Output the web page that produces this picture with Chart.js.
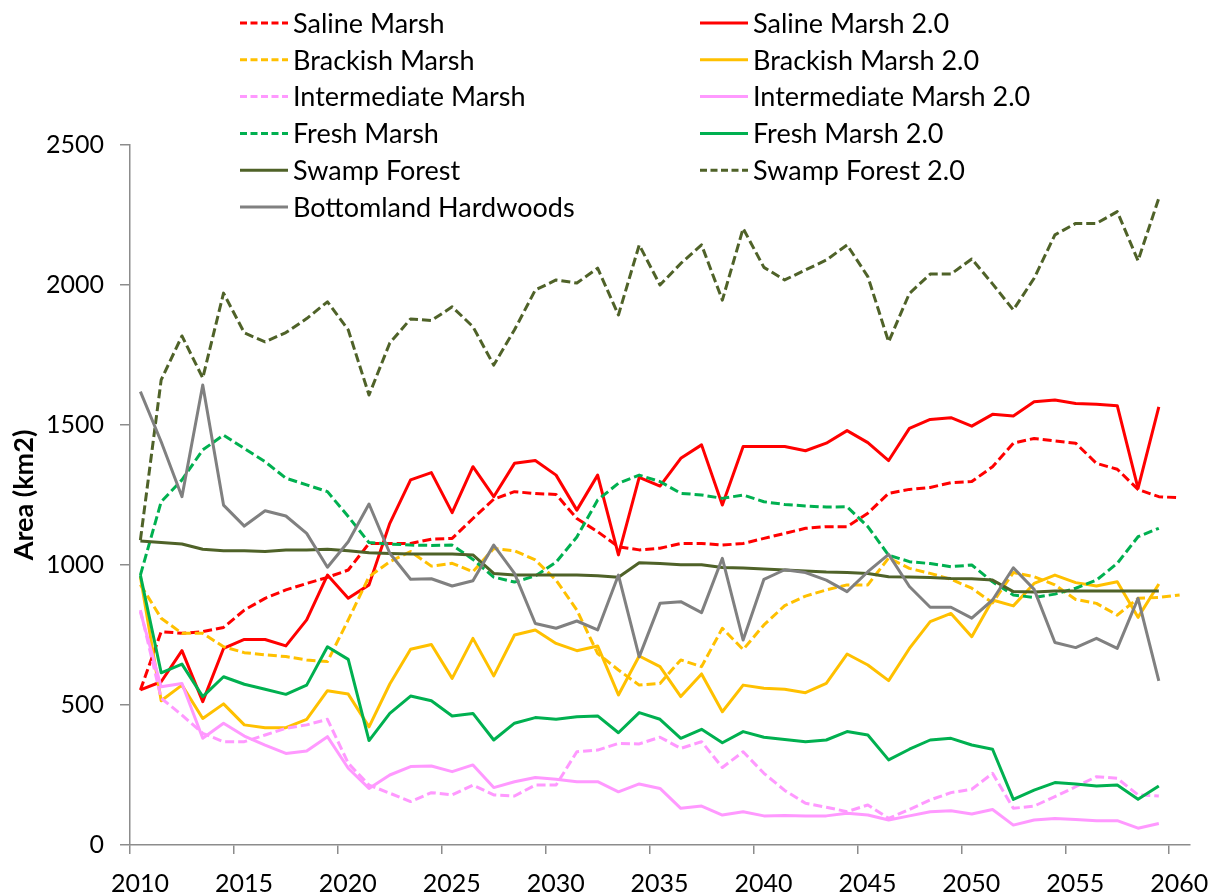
<!DOCTYPE html>
<html>
<head>
<meta charset="utf-8">
<script src="https://cdn.jsdelivr.net/npm/chart.js@4.4.1/dist/chart.umd.min.js"></script>
<style>
  html, body { margin: 0; padding: 0; background: #fff; }
  #wrap { width: 1220px; height: 896px; }
</style>
</head>
<body>
<div id="wrap"><canvas id="chartArea" width="1220" height="896"></canvas></div>
<script>
// tahun (titik data berada di tengah tahun)
const years = [2010.5, 2011.5, 2012.5, 2013.5, 2014.5, 2015.5, 2016.5, 2017.5, 2018.5, 2019.5,
  2020.5, 2021.5, 2022.5, 2023.5, 2024.5, 2025.5, 2026.5, 2027.5, 2028.5, 2029.5,
  2030.5, 2031.5, 2032.5, 2033.5, 2034.5, 2035.5, 2036.5, 2037.5, 2038.5, 2039.5,
  2040.5, 2041.5, 2042.5, 2043.5, 2044.5, 2045.5, 2046.5, 2047.5, 2048.5, 2049.5,
  2050.5, 2051.5, 2052.5, 2053.5, 2054.5, 2055.5, 2056.5, 2057.5, 2058.5, 2059.5, 2060.5];

const salineMarsh = [554, 762, 756, 762, 777, 839, 881, 911, 934, 956,
  982, 1077, 1077, 1077, 1092, 1095, 1166, 1235, 1262, 1255,
  1252, 1166, 1119, 1065, 1054, 1060, 1077, 1077, 1071, 1077,
  1095, 1113, 1131, 1137, 1137, 1185, 1256, 1270, 1277, 1294,
  1298, 1351, 1435, 1452, 1443, 1435, 1363, 1342, 1270, 1244, 1240];
const salineMarsh2 = [554, 583, 694, 512, 702, 734, 734, 711, 804, 964,
  881, 929, 1149, 1304, 1330, 1187, 1351, 1244, 1363, 1373,
  1321, 1196, 1321, 1036, 1313, 1282, 1381, 1429, 1214, 1423,
  1423, 1423, 1408, 1435, 1480, 1437, 1373, 1488, 1520, 1526,
  1496, 1538, 1532, 1583, 1589, 1577, 1574, 1569, 1274, 1565];
const brackishMarsh = [930, 810, 756, 756, 708, 687, 679, 673, 661, 655,
  804, 958, 1012, 1048, 996, 1006, 976, 1059, 1051, 1018,
  946, 839, 684, 625, 571, 577, 661, 637, 774, 698,
  786, 855, 889, 911, 929, 929, 1025, 988, 970, 949,
  917, 865, 973, 958, 929, 877, 863, 821, 881, 884, 893];
const brackishMarsh2 = [958, 515, 571, 452, 504, 429, 419, 419, 449, 551,
  539, 422, 575, 699, 716, 595, 738, 604, 750, 768,
  720, 694, 711, 536, 675, 637, 530, 611, 476, 571,
  560, 556, 544, 577, 682, 643, 587, 702, 798, 827,
  744, 875, 854, 934, 964, 937, 925, 940, 813, 932];
const intermediateMarsh = [839, 524, 464, 399, 369, 369, 393, 417, 429, 449,
  292, 214, 185, 155, 187, 179, 214, 179, 175, 214,
  214, 333, 339, 363, 361, 385, 345, 369, 277, 333,
  256, 195, 149, 135, 119, 143, 95, 127, 161, 187,
  199, 256, 131, 139, 173, 208, 244, 238, 179, 175];
const intermediateMarsh2 = [833, 565, 577, 381, 435, 389, 357, 327, 336, 387,
  274, 202, 250, 280, 282, 262, 286, 205, 226, 241,
  235, 226, 226, 190, 218, 202, 131, 139, 107, 119,
  104, 105, 104, 104, 113, 107, 89, 104, 119, 122,
  111, 127, 71, 89, 95, 91, 87, 87, 60, 77];
const freshMarsh = [964, 1226, 1304, 1411, 1464, 1416, 1369, 1310, 1286, 1262,
  1173, 1080, 1075, 1071, 1070, 1071, 1020, 957, 939, 961,
  1010, 1100, 1232, 1292, 1321, 1298, 1256, 1250, 1238, 1250,
  1226, 1216, 1211, 1207, 1208, 1137, 1035, 1012, 1005, 994,
  1000, 940, 893, 884, 896, 917, 946, 1006, 1101, 1131];
const freshMarsh2 = [964, 615, 646, 530, 601, 574, 556, 538, 571, 708,
  663, 373, 470, 532, 515, 461, 470, 375, 435, 455,
  449, 458, 461, 401, 473, 449, 381, 413, 365, 405,
  385, 377, 369, 375, 405, 393, 304, 342, 375, 381,
  357, 342, 163, 196, 223, 218, 211, 214, 163, 211];
const swampForest = [1086, 1080, 1075, 1056, 1051, 1051, 1048, 1054, 1054, 1056,
  1051, 1044, 1041, 1039, 1039, 1039, 1036, 970, 964, 964,
  964, 964, 962, 956, 1008, 1005, 1001, 1001, 991, 989,
  986, 982, 979, 975, 973, 970, 958, 957, 955, 952,
  951, 946, 905, 904, 907, 907, 907, 907, 907, 907];
const swampForest2 = [1089, 1661, 1818, 1668, 1971, 1829, 1797, 1830, 1880, 1940,
  1840, 1607, 1793, 1879, 1873, 1922, 1851, 1714, 1840, 1982,
  2018, 2007, 2060, 1893, 2143, 2000, 2077, 2143, 1946, 2202,
  2063, 2018, 2054, 2089, 2143, 2030, 1797, 1970, 2039, 2039,
  2093, 2004, 1911, 2024, 2179, 2220, 2220, 2262, 2087, 2310];
const bottomlandHardwoods = [1619, 1440, 1244, 1643, 1214, 1139, 1194, 1175, 1113, 992,
  1083, 1218, 1042, 949, 951, 925, 944, 1071, 970, 791,
  774, 800, 768, 964, 672, 863, 869, 830, 1024, 732,
  949, 983, 973, 946, 905, 976, 1038, 923, 849, 849,
  810, 875, 990, 913, 723, 705, 738, 702, 881, 586];

const seriesLabels = ['Saline Marsh', 'Saline Marsh 2.0', 'Brackish Marsh', 'Brackish Marsh 2.0',
  'Intermediate Marsh', 'Intermediate Marsh 2.0', 'Fresh Marsh', 'Fresh Marsh 2.0',
  'Swamp Forest', 'Swamp Forest 2.0', 'Bottomland Hardwoods'];
const seriesValues = [salineMarsh, salineMarsh2, brackishMarsh, brackishMarsh2,
  intermediateMarsh, intermediateMarsh2, freshMarsh, freshMarsh2,
  swampForest, swampForest2, bottomlandHardwoods];
const seriesColors = ['#FF0000', '#FF0000', '#FFC000', '#FFC000', '#FF99FF', '#FF99FF',
  '#00B050', '#00B050', '#4F6228', '#4F6228', '#808080'];
const seriesDashed = [true, false, true, false, true, false, true, false, false, true, false];

const yTicks = [0, 500, 1000, 1500, 2000, 2500];
const xTicks = [2010, 2015, 2020, 2025, 2030, 2035, 2040, 2045, 2050, 2055, 2060];

const FONT = 'Lato, "Open Sans", sans-serif';
const DASH = [9, 4];

// susun dataset dari array di atas
const datasets = seriesValues.map((vals, i) => ({
  label: seriesLabels[i],
  data: vals.map((v, k) => ({ x: years[k], y: v })),
  borderColor: seriesColors[i],
  backgroundColor: seriesColors[i],
  borderWidth: 3,
  borderDash: seriesDashed[i] ? DASH : [],
  borderJoinStyle: 'round',
  pointRadius: 0,
  tension: 0,
  fill: false,
  order: seriesValues.length - i   // seri terakhir digambar paling atas
}));

// legenda dua kolom seperti di gambar asli
const legendPlugin = {
  id: 'twoColLegend',
  afterDraw(chart) {
    const ctx = chart.ctx;
    const colX = [240, 700];
    const rowY0 = 23, rowStep = 36.8, lineLen = 48;
    ctx.save();
    ctx.font = '27px ' + FONT;
    ctx.textBaseline = 'middle';
    ctx.fillStyle = '#000';
    chart.data.datasets.forEach((ds, i) => {
      const x = colX[i % 2];
      const y = rowY0 + Math.floor(i / 2) * rowStep;
      ctx.strokeStyle = ds.borderColor;
      ctx.lineWidth = 3;
      ctx.setLineDash(ds.borderDash.length ? [7, 3.5] : []);
      ctx.beginPath();
      ctx.moveTo(x, y);
      ctx.lineTo(x + lineLen, y);
      ctx.stroke();
      ctx.setLineDash([]);
      ctx.fillText(ds.label, x + lineLen + 5, y + 1);
    });
    ctx.restore();
  }
};

const ctx = document.getElementById('chartArea').getContext('2d');
new Chart(ctx, {
  type: 'line',
  data: { datasets: datasets },
  plugins: [legendPlugin],
  options: {
    responsive: false,
    animation: false,
    layout: { padding: { top: 145, right: 30, bottom: 0, left: 0 } },
    plugins: {
      legend: { display: false },
      tooltip: { enabled: false }
    },
    scales: {
      x: {
        type: 'linear',
        min: 2010,
        max: 2061,
        afterBuildTicks: (scale) => {
          scale.ticks = xTicks.map(v => ({ value: v }));
        },
        afterFit: (scale) => { scale.height = 51; },
        border: { display: true, color: '#8C8C8C', width: 1.5 },
        grid: { display: true, drawOnChartArea: false, drawTicks: true, tickLength: 9, color: '#8C8C8C', lineWidth: 1.5 },
        ticks: {
          color: '#000',
          font: { family: FONT, size: 25 },
          padding: 15,
          labelOffset: 10,
          maxRotation: 0,
          autoSkip: false,
          callback: (v) => String(v)
        }
      },
      y: {
        min: 0,
        max: 2500,
        afterBuildTicks: (scale) => {
          scale.ticks = yTicks.map(v => ({ value: v }));
        },
        afterFit: (scale) => { scale.width = 130; },
        border: { display: true, color: '#8C8C8C', width: 1.5 },
        grid: { display: true, drawOnChartArea: false, drawTicks: true, tickLength: 10, color: '#8C8C8C', lineWidth: 1.5 },
        ticks: {
          color: '#000',
          font: { family: FONT, size: 25 },
          padding: 16,
          callback: (v) => String(v)
        },
        title: {
          display: true,
          text: 'Area (km2)',
          color: '#000',
          font: { family: FONT, size: 27, weight: 'bold' },
          padding: { top: 8, bottom: 0 }
        }
      }
    }
  }
});
</script>
</body>
</html>
